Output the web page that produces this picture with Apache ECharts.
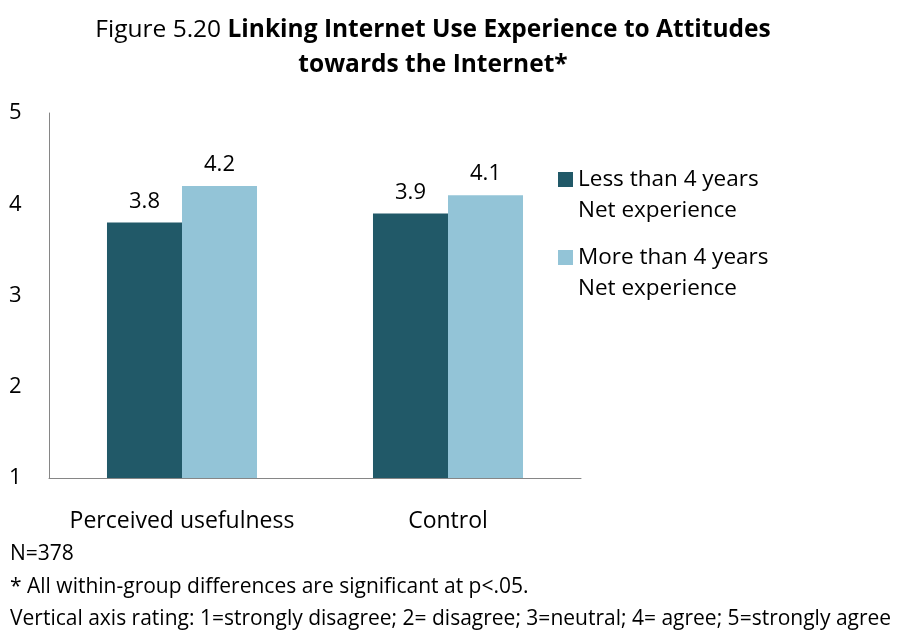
<!DOCTYPE html>
<html>
<head>
<meta charset="utf-8">
<script src="https://cdn.jsdelivr.net/npm/echarts@6/dist/echarts.min.js"></script>
<style>
  html, body { margin: 0; padding: 0; background: #fff; }
  #chart { width: 898px; height: 630px; }
</style>
</head>
<body>
<div id="chart"></div>
<script>
const categories = ['Perceived usefulness', 'Control'];
const seriesNames = ['Less than 4 years\nNet experience', 'More than 4 years\nNet experience'];
const lessThan4 = [3.8, 3.9];
const moreThan4 = [4.2, 4.1];
const yTicks = [1, 2, 3, 4, 5];
const footnotes = [
  'N=378',
  '* All within-group differences are significant at p<.05.',
  'Vertical axis rating: 1=strongly disagree; 2= disagree; 3=neutral; 4= agree; 5=strongly agree'
];

const FONT = '"Open Sans", sans-serif';
const colors = ['#215968', '#93C4D7'];

const chart = echarts.init(document.getElementById('chart'), null, { renderer: 'canvas' });

const labelOpt = {
  show: true,
  position: 'top',
  distance: 10,
  color: '#000',
  fontFamily: FONT,
  fontSize: 22,
  formatter: p => p.value.toFixed(1)
};

chart.setOption({
  animation: false,
  backgroundColor: '#fff',
  color: colors,
  title: [
    {
      text: '{n|Figure 5.20 }{b|Linking Internet Use Experience to Attitudes}\n{b|towards the Internet*}',
      left: 428,
      top: 8,
      textAlign: 'center',
      textStyle: {
        rich: {
          n: { fontFamily: FONT, fontSize: 24.5, fontWeight: 'normal', color: '#000', lineHeight: 35 },
          b: { fontFamily: FONT, fontSize: 24.5, fontWeight: 'bold', color: '#000', lineHeight: 35 }
        }
      }
    },
    ...footnotes.map((t, i) => ({
      text: t,
      left: 5,
      top: 539 + i * 32.5,
      textStyle: { fontFamily: FONT, fontSize: 21, fontWeight: 'normal', color: '#000' }
    }))
  ],
  legend: {
    orient: 'vertical',
    left: 553,
    top: 128,
    itemWidth: 15,
    itemHeight: 15,
    itemGap: -15,
    icon: 'rect',
    data: seriesNames,
    // leading blank line keeps the swatch level with the first text line
    formatter: name => '\n' + name,
    textStyle: {
      fontFamily: FONT,
      fontSize: 22.5,
      color: '#000',
      lineHeight: 31
    }
  },
  grid: {
    left: 49,
    top: 113,
    width: 532,
    height: 365,
    containLabel: false
  },
  xAxis: {
    type: 'category',
    data: categories,
    axisLine: { lineStyle: { color: '#868686', width: 1 } },
    axisTick: { show: false },
    axisLabel: {
      interval: 0,
      color: '#000',
      fontFamily: FONT,
      fontSize: 23,
      margin: 32
    }
  },
  yAxis: {
    type: 'value',
    min: 1,
    max: 5,
    interval: 1,
    axisLine: { show: true, lineStyle: { color: '#868686', width: 1 } },
    axisTick: { show: false },
    splitLine: { show: false },
    axisLabel: {
      color: '#000',
      fontFamily: FONT,
      fontSize: 22,
      margin: 40,
      align: 'left',
      formatter: v => yTicks.includes(v) ? String(v) : ''
    }
  },
  series: [
    {
      name: seriesNames[0],
      type: 'bar',
      data: lessThan4,
      barGap: '0%',
      barCategoryGap: '43.6%',
      label: labelOpt
    },
    {
      name: seriesNames[1],
      type: 'bar',
      data: moreThan4,
      barGap: '0%',
      barCategoryGap: '43.6%',
      label: labelOpt
    }
  ]
});
</script>
</body>
</html>
